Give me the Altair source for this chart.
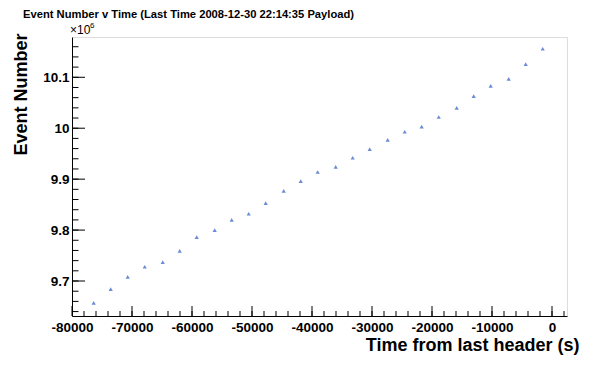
import altair as alt
import pandas as pd

# Time from last header (s)
times = [-76380, -73550, -70720, -67880, -64880, -62050, -59220, -56220, -53380,
         -50550, -47720, -44720, -41880, -39050, -36050, -33220, -30380, -27380,
         -24550, -21720, -18880, -15880, -13050, -10220, -7220, -4380, -1550]
# Event number
events = [9657000, 9684000, 9708000, 9728000, 9737000, 9759000, 9786000, 9800000,
          9820000, 9832000, 9853000, 9877000, 9896000, 9914000, 9924000, 9942000,
          9959000, 9977000, 9993000, 10003000, 10022000, 10040000, 10063000,
          10083000, 10097000, 10126000, 10156000]

x_major = [-80000, -70000, -60000, -50000, -40000, -30000, -20000, -10000, 0]
x_minor = list(range(-78000, 2001, 2000))
y_major = [9700000, 9800000, 9900000, 10000000, 10100000]
y_minor = list(range(9640000, 10160001, 20000))

X_DOMAIN = [-80000, 2500]
Y_DOMAIN = [9631300, 10179100]

W, H = 495, 279
FONT = "Liberation Sans"

df = pd.DataFrame({"t": times, "n": events})

xscale = alt.Scale(domain=X_DOMAIN, nice=False, zero=False)
yscale = alt.Scale(domain=Y_DOMAIN, nice=False, zero=False)

points = alt.Chart(df).mark_point(
    shape="triangle-up", filled=True, size=18, color="#6b8cd4", opacity=1
).encode(
    x=alt.X("t:Q", scale=xscale, axis=alt.Axis(
        values=x_major, ticks=False, grid=False, labelPadding=4,
        labelExpr="'' + datum.value",
        labelFont=FONT, labelFontSize=13.5, labelFontWeight="bold", labelColor="black",
        domainColor="black", domainWidth=1,
        title="Time from last header (s)", titleFont=FONT, titleFontSize=18,
        titleFontWeight="bold", titleColor="black", titleAlign="right",
        titleBaseline="alphabetic", titleX=507, titleY=34, labelFlush=False)),
    y=alt.Y("n:Q", scale=yscale, axis=alt.Axis(
        values=y_major, ticks=False, grid=False, labelPadding=3,
        labelExpr="format(datum.value / 1e6, '.1~f')",
        labelFont=FONT, labelFontSize=13.5, labelFontWeight="bold", labelColor="black",
        domainColor="black", domainWidth=1,
        title="Event Number", titleFont=FONT, titleFontSize=18,
        titleFontWeight="bold", titleColor="black", titleAngle=270,
        titleAlign="right", titleBaseline="alphabetic", titleX=-46, titleY=-4)),
)

xmaj = alt.Chart(pd.DataFrame({"t": x_major})).mark_rule(color="black", strokeWidth=1).encode(
    x=alt.X("t:Q", scale=xscale), y=alt.value(H), y2=alt.value(H - 10))
xmin = alt.Chart(pd.DataFrame({"t": x_minor})).mark_rule(color="black", strokeWidth=1).encode(
    x=alt.X("t:Q", scale=xscale), y=alt.value(H), y2=alt.value(H - 5))
ymaj = alt.Chart(pd.DataFrame({"n": y_major})).mark_rule(color="black", strokeWidth=1).encode(
    y=alt.Y("n:Q", scale=yscale), x=alt.value(0), x2=alt.value(13))
ymin = alt.Chart(pd.DataFrame({"n": y_minor})).mark_rule(color="black", strokeWidth=1).encode(
    y=alt.Y("n:Q", scale=yscale), x=alt.value(0), x2=alt.value(6.5))

mult = alt.Chart(pd.DataFrame({"s": ["×10"]})).mark_text(
    align="left", baseline="alphabetic", font=FONT, fontSize=12, color="black"
).encode(x=alt.value(-2), y=alt.value(-3), text="s:N")
sup = alt.Chart(pd.DataFrame({"s": ["6"]})).mark_text(
    align="left", baseline="alphabetic", font=FONT, fontSize=8, color="black"
).encode(x=alt.value(18), y=alt.value(-9), text="s:N")

chart = alt.layer(xmin, xmaj, ymin, ymaj, points, mult, sup).properties(
    width=W, height=H,
    title=alt.TitleParams(
        "Event Number v Time (Last Time 2008-12-30 22:14:35 Payload)",
        anchor="start", frame="group", font=FONT, fontSize=11.2, fontWeight="bold",
        color="black", dx=-49, dy=2, offset=4),
    autosize=alt.AutoSizeParams(type="none"),
    padding={"left": 64, "top": 29, "right": 20, "bottom": 40},
).configure_view(stroke="black", strokeWidth=1).configure(background="white")

chart.save("out.html", embed_options={"renderer": "svg", "actions": False})
